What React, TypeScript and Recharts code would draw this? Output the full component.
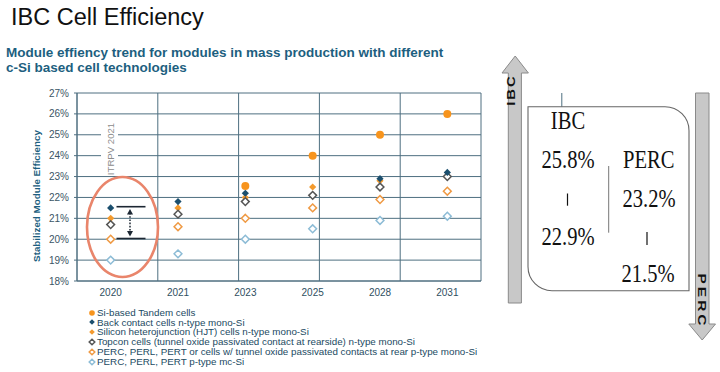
import React from 'react';
import { ComposedChart, Line, XAxis, YAxis, CartesianGrid } from 'recharts';

// Stabilized module efficiency (%) by year and cell technology
const years = ['2020', '2021', '2023', '2025', '2028', '2031'];
const tandem = [null, null, 22.55, 24.0, 25.0, 26.0];
const backContact = [21.5, 21.8, 22.2, null, 22.9, 23.2];
const hjt = [21.0, 21.5, 22.0, 22.5, 22.8, 23.0];
const topcon = [20.7, 21.2, 21.8, 22.1, 22.5, 23.0];
const percMono = [20.0, 20.6, 21.0, 21.5, 21.9, 22.3];
const percMc = [19.0, 19.3, 20.0, 20.5, 20.9, 21.1];

const yTicks = [18, 19, 20, 21, 22, 23, 24, 25, 26, 27];
const bandEdges = [0, 1, 2, 3, 4, 5, 6];

const data = years.map((year, i) => ({
  year,
  tandem: tandem[i],
  backContact: backContact[i],
  hjt: hjt[i],
  topcon: topcon[i],
  percMono: percMono[i],
  percMc: percMc[i],
}));

type Kind = 'circle' | 'diamond' | 'hollow';

interface SeriesDef {
  key: string;
  name: string;
  color: string;
  kind: Kind;
}

// Drawing order: later entries sit on top
const series: SeriesDef[] = [
  { key: 'percMc', name: 'PERC, PERL, PERT p-type mc-Si', color: '#8dbcd6', kind: 'hollow' },
  { key: 'percMono', name: 'PERC, PERL, PERT or cells w/ tunnel oxide passivated contacts at rear p-type mono-Si', color: '#ef9a44', kind: 'hollow' },
  { key: 'hjt', name: 'Silicon heterojunction (HJT) cells n-type mono-Si', color: '#f39a2e', kind: 'diamond' },
  { key: 'topcon', name: 'Topcon cells (tunnel oxide passivated contact at rearside) n-type mono-Si', color: '#555555', kind: 'hollow' },
  { key: 'backContact', name: 'Back contact cells n-type mono-Si', color: '#1b4f6e', kind: 'diamond' },
  { key: 'tandem', name: 'Si-based Tandem cells', color: '#f7941d', kind: 'circle' },
];

const legendOrder = ['tandem', 'backContact', 'hjt', 'topcon', 'percMono', 'percMc'];

const FONT = '"Liberation Sans", Arial, sans-serif';
const SERIF = '"Liberation Serif", "Times New Roman", serif';
const GRID = '#4e6f80';
const TEAL = '#1d5f80';

function Marker({ cx, cy, kind, color, s }: { cx: number; cy: number; kind: Kind; color: string; s: number }) {
  if (kind === 'circle') return <circle cx={cx} cy={cy} r={s} fill={color} />;
  const pts = `${cx},${cy - s} ${cx + s},${cy} ${cx},${cy + s} ${cx - s},${cy}`;
  if (kind === 'diamond') return <polygon points={pts} fill={color} />;
  return <polygon points={pts} fill="#ffffff" stroke={color} strokeWidth={1.5} />;
}

const makeDot = (def: SeriesDef) => (props: any) => {
  const { cx, cy, value, index } = props;
  if (value == null || cy == null || Number.isNaN(cy)) return <g key={`${def.key}-${index}`} />;
  const size = def.kind === 'circle' ? 4 : def.kind === 'diamond' ? 3.6 : 3.9;
  return (
    <g key={`${def.key}-${index}`}>
      <Marker cx={cx} cy={cy} kind={def.kind} color={def.color} s={size} />
    </g>
  );
};

const LegendList = () => (
  <div
    style={{
      position: 'absolute',
      left: 88,
      top: 307.8,
      fontFamily: FONT,
      fontSize: 9.8,
      color: '#1b4a62',
      lineHeight: '9.8px',
    }}
  >
    {legendOrder.map((k) => {
      const def = series.find((d) => d.key === k)!;
      return (
        <div key={k} style={{ display: 'flex', alignItems: 'center', height: 9.8, whiteSpace: 'nowrap' }}>
          <svg width={8} height={8} style={{ marginRight: 1 }}>
            <Marker cx={4} cy={4} kind={def.kind} color={def.color} s={2.8} />
          </svg>
          <span>{def.name}</span>
        </div>
      );
    })}
  </div>
);

function Overlay() {
  return (
    <svg width={720} height={372} style={{ position: 'absolute', left: 0, top: 0, pointerEvents: 'none' }}>
      {/* Headings */}
      <text x={11} y={25} fontFamily={FONT} fontSize={23.5} fill="#111">IBC Cell Efficiency</text>
      <text x={6} y={56.5} fontFamily={FONT} fontSize={13.5} fontWeight="bold" fill={TEAL}>
        Module effiency trend for modules in mass production with different
      </text>
      <text x={6} y={71.5} fontFamily={FONT} fontSize={13.5} fontWeight="bold" fill={TEAL}>
        c-Si based cell technologies
      </text>
      <text
        x={0}
        y={0}
        transform="translate(39.5,196) rotate(-90)"
        textAnchor="middle"
        fontFamily={FONT}
        fontSize={9.8}
        fontWeight="bold"
        fill={TEAL}
      >
        Stabilized Module Efficiency
      </text>

      {/* Edition marker */}
      <rect x={101} y={118} width={17} height={56} fill="#ffffff" />
      <text
        x={0}
        y={0}
        transform="translate(113.8,149) rotate(-90)"
        textAnchor="middle"
        fontFamily={FONT}
        fontSize={9.6}
        fill="#8c8c8c"
      >
        ITRPV 2021
      </text>

      {/* Highlight around 2020 */}
      <ellipse cx={122.5} cy={227} rx={35.5} ry={50} fill="none" stroke="#e9856b" strokeWidth={2.6} />
      <line x1={116.5} y1={206.7} x2={145.5} y2={206.7} stroke="#1c2733" strokeWidth={1.6} />
      <line x1={116.5} y1={238.5} x2={145.5} y2={238.5} stroke="#1c2733" strokeWidth={1.6} />
      <line x1={130} y1={213} x2={130} y2={232} stroke="#1c2733" strokeWidth={1.5} strokeDasharray="1.6 1.6" />
      <polygon points="130,209 127,214.5 133,214.5" fill="#1c2733" />
      <polygon points="130,236.5 127,231 133,231" fill="#1c2733" />

      {/* Up arrow (IBC) */}
      <polygon
        points="508.3,303 508.3,73 502,73 515.2,56 528.4,73 521.4,73 521.4,303"
        fill="#c8c8c8"
        stroke="#8a8a8a"
        strokeWidth={1}
      />
      <g transform="translate(514.6,90) rotate(-90) scale(1.35,1)">
        <text x={0} y={0} textAnchor="middle" fontFamily={FONT} fontSize={11} fontWeight="bold" letterSpacing={1.5} fill="#111">
          IBC
        </text>
      </g>

      {/* Down arrow (PERC) */}
      <polygon
        points="695.5,93 709,93 709,324 715.5,324 702.2,340 688.8,324 695.5,324"
        fill="#c8c8c8"
        stroke="#8a8a8a"
        strokeWidth={1}
      />
      <g transform="translate(698.4,301) rotate(90) scale(1.35,1)">
        <text x={0} y={0} textAnchor="middle" fontFamily={FONT} fontSize={11.5} fontWeight="bold" letterSpacing={2.2} fill="#111">
          PERC
        </text>
      </g>

      {/* Comparison box */}
      <path
        d="M528,106.7 H665 A24,24 0 0 1 689,130.7 V290.7 H552 A24,24 0 0 1 528,266.7 Z"
        fill="#ffffff"
        stroke="#666666"
        strokeWidth={1.1}
      />
      <line x1={608.7} y1={166} x2={608.7} y2={232.7} stroke="#777" strokeWidth={1} />
      {[
        { x: 568, y: 129.3, t: 'IBC' },
        { x: 568, y: 168.3, t: '25.8%' },
        { x: 568, y: 245, t: '22.9%' },
        { x: 648.7, y: 168.3, t: 'PERC' },
        { x: 649, y: 206.7, t: '23.2%' },
        { x: 648, y: 281.7, t: '21.5%' },
      ].map((d) => (
        <g key={d.t} transform={`translate(${d.x},${d.y}) scale(0.84,1)`}>
          <text x={0} y={0} textAnchor="middle" fontFamily={SERIF} fontSize={24.5} fill="#111">
            {d.t}
          </text>
        </g>
      ))}
      <line x1={567.5} y1={193.5} x2={567.5} y2={205.7} stroke="#111" strokeWidth={1.2} />
      <line x1={647} y1={232} x2={647} y2={245} stroke="#111" strokeWidth={1.2} />
    </svg>
  );
}

export default function App() {
  return (
    <div style={{ position: 'absolute', left: 0, top: 0, width: 720, height: 372, background: '#ffffff' }}>
      <ComposedChart
        width={720}
        height={372}
        data={data}
        margin={{ top: 93, right: 239, bottom: 61, left: 37 }}
      >
        <XAxis xAxisId="grid" type="number" domain={[0, 6]} ticks={bandEdges} hide />
        <CartesianGrid xAxisId="grid" stroke={GRID} strokeWidth={1} />
        <XAxis
          dataKey="year"
          scale="band"
          tickLine={false}
          axisLine={{ stroke: GRID }}
          tick={{ fontSize: 10, fill: '#2f4f5f', fontFamily: FONT }}
        />
        <YAxis
          domain={[18, 27]}
          ticks={yTicks}
          interval={0}
          width={40}
          tickFormatter={(v: number) => `${v}%`}
          tickSize={3}
          tickMargin={5}
          tickLine={{ stroke: GRID }}
          axisLine={{ stroke: GRID }}
          tick={{ fontSize: 10, fill: '#3b5565', fontFamily: FONT }}
        />
        {series.map((def) => (
          <Line
            key={def.key}
            dataKey={def.key}
            name={def.name}
            stroke="none"
            fill={def.color}
            dot={makeDot(def)}
            activeDot={false}
            isAnimationActive={false}
            connectNulls={false}
          />
        ))}
      </ComposedChart>
      <LegendList />
      <Overlay />
    </div>
  );
}
